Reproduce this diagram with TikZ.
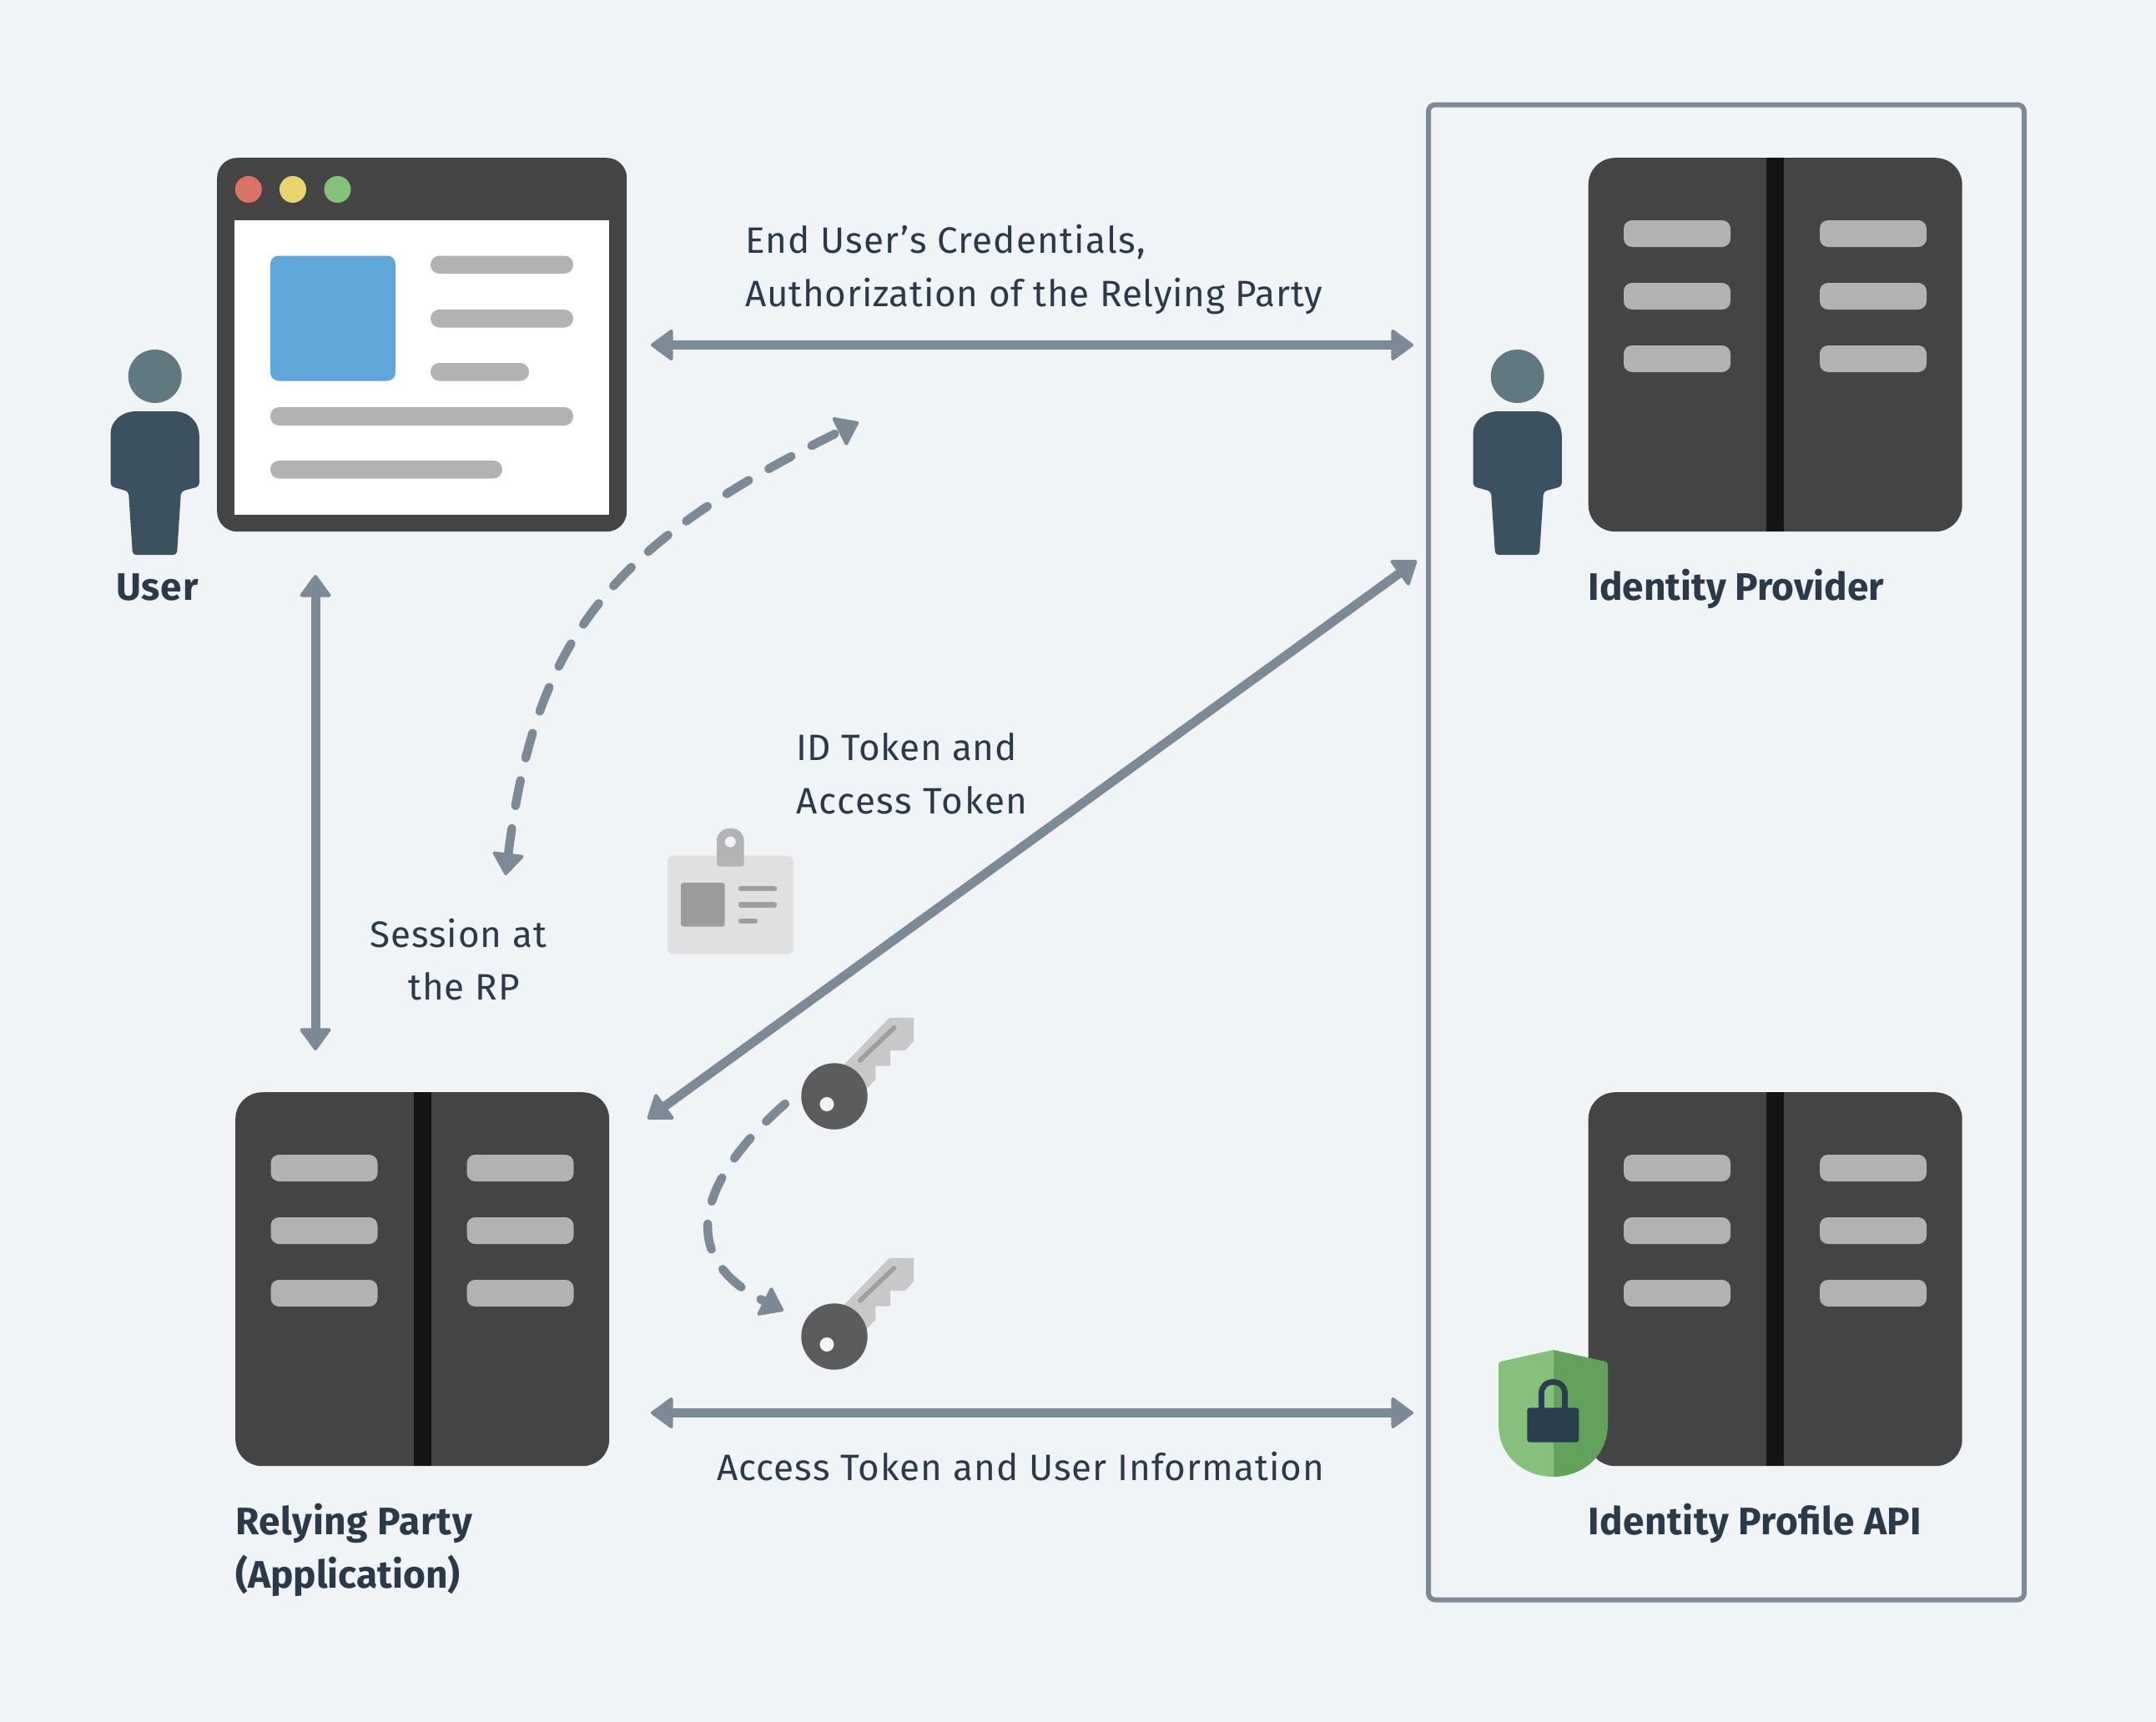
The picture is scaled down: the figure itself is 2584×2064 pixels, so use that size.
\documentclass[tikz,border=0pt]{standalone}
\usepackage{fontspec}
\usetikzlibrary{arrows.meta,calc}
\setmainfont{Fira Sans}
\newfontfamily\lblfont{Fira Sans}
\newcommand{\ls}[2]{{\addfontfeature{LetterSpace=#1}#2}}
\definecolor{bgc}{HTML}{F0F4F7}
\definecolor{linec}{HTML}{7C8A98}
\definecolor{inkc}{HTML}{2B3A4A}
\definecolor{darkc}{HTML}{444444}
\definecolor{spinec}{HTML}{141414}
\definecolor{barc}{HTML}{B2B2B2}
\definecolor{headc}{HTML}{607880}
\definecolor{bodyc}{HTML}{3B5160}
\definecolor{redc}{HTML}{DA7365}
\definecolor{yelc}{HTML}{EAD36E}
\definecolor{grnc}{HTML}{86C17B}
\definecolor{dgrnc}{HTML}{63A25A}
\definecolor{bluec}{HTML}{5FA6D9}
\definecolor{lockc}{HTML}{2B3E4C}
\definecolor{badgec}{HTML}{E0E0E0}
\definecolor{clipc}{HTML}{B3B3B3}
\definecolor{photoc}{HTML}{9B9B9B}
\definecolor{bladec}{HTML}{C8C8C8}
\definecolor{groovec}{HTML}{9E9E9E}
\definecolor{keyc}{HTML}{5C5C5C}
\tikzset{
  tipstyle/.tip={Triangle[length=28pt,width=40pt,round,line width=4pt]},
  conn/.style={draw=linec,line width=11pt,tipstyle-tipstyle},
  dashconn/.style={draw=linec,line width=10.5pt,line cap=round,dash pattern=on 31pt off 27.5pt,-tipstyle},
  lbl/.style={anchor=base west,inner sep=0pt,text=inkc,font=\lblfont\fontsize{44}{64}\selectfont},
  blbl/.style={anchor=base west,inner sep=0pt,text=inkc,font=\bfseries\fontsize{46}{64}\selectfont},
  servernode/.style={anchor=north west,fill=darkc,minimum width=448pt,minimum height=448pt,inner sep=0pt,rounded corners=32pt},
  bar/.style={fill=barc,rounded corners=10pt},
  pill/.style={fill=barc,rounded corners=10.5pt},
}
\newcommand{\serverdetail}[1]{%
  \begin{scope}[shift={(#1)}]
    \fill[spinec] (213.5,0) rectangle (234.5,448);
    \foreach \yy in {75,150,225}{
      \fill[bar] (42.5,\yy) rectangle (170.5,\yy+32);
      \fill[bar] (277.5,\yy) rectangle (405.5,\yy+32);
    }
  \end{scope}}
\newcommand{\personicon}[1]{%
  \begin{scope}[shift={(#1,0)}]
    \fill[headc] (185.7,451) circle [radius=32];
    \fill[bodyc] (132.6,523) .. controls (132.6,505) and (146,493) .. (163,493) -- (208,493) .. controls (226,493) and (238.8,505) .. (238.8,523)
      [rounded corners=4pt] -- (238.8,583) -- (217,589)
      -- (212,665) -- (159,665) -- (154,589)
      -- (132.6,583) -- cycle;
  \end{scope}}
\newcommand{\keyicon}[1]{%
  \begin{scope}[shift={(0,#1)}]
    \fill[bladec] (1011.7,1275.8) -- (1066,1219.8) -- (1095,1219.8) -- (1095,1248) -- (1085,1259) -- (1067,1259) -- (1067,1277.6) -- (1049.3,1277.6) -- (1049.3,1294) -- (1038.7,1305) -- (1000,1314) -- cycle;
    \draw[groovec,line width=5.5pt,line cap=round] (1030.7,1271) -- (1071.7,1231.7);
    \fill[keyc] (1000,1314) circle [radius=39.7];
    \fill[bgc] (991,1323.5) circle [radius=8.5];
  \end{scope}}
\begin{document}
\begin{tikzpicture}[x=1pt,y=-1pt]
\useasboundingbox (0,0) rectangle (2584,2064);
\fill[bgc] (0,0) rectangle (2584,2064);

% provider frame
\node[draw=linec,line width=6pt,rounded corners=8pt,anchor=north west,minimum width=714pt,minimum height=1792pt,inner sep=0pt] (frame) at (1709,122.5) {};

% user + browser
\personicon{0}
\node[anchor=north west,fill=darkc,minimum width=491pt,minimum height=448pt,inner sep=0pt,rounded corners=24pt] (browser) at (260,189) {};
\fill[white] (281,264) rectangle (730,616.5);
\fill[redc] (297.8,227) circle [radius=16];
\fill[yelc] (351,227) circle [radius=16];
\fill[grnc] (404.5,227) circle [radius=16];
\fill[bluec,rounded corners=10pt] (324,306.5) rectangle (474,456.5);
\fill[pill] (516,306.5) rectangle (687,328);
\fill[pill] (516,371) rectangle (687,392.5);
\fill[pill] (516,435) rectangle (634,456.5);
\fill[pill] (324,488) rectangle (687,510);
\fill[pill] (324,552) rectangle (602,573.5);

% servers
\node[servernode] (idp) at (1903.5,189) {};
\serverdetail{1903.5,189}
\personicon{1633}
\node[servernode] (rp) at (282,1309) {};
\serverdetail{282,1309}
\node[servernode] (api) at (1903.5,1309) {};
\serverdetail{1903.5,1309}

% shield
\fill[grnc] (1861.5,1618) [rounded corners=3pt] -- (1796,1632.5) [sharp corners] -- (1796,1707) .. controls (1796,1745) and (1826,1770) .. (1861.5,1770) -- cycle;
\fill[dgrnc] (1861.5,1618) [rounded corners=3pt] -- (1927,1632.5) [sharp corners] -- (1927,1707) .. controls (1927,1745) and (1897,1770) .. (1861.5,1770) -- cycle;
\draw[lockc,line width=6.8pt] (1847.5,1692) -- (1847.5,1670) .. controls (1847.5,1662) and (1853,1656.5) .. (1861.5,1656.5) .. controls (1870,1656.5) and (1875.5,1662) .. (1875.5,1670) -- (1875.5,1692);
\fill[lockc,rounded corners=3pt] (1830.3,1687.3) rectangle (1892.3,1728.7);

% badge
\fill[badgec,rounded corners=7pt] (800,1025.6) rectangle (951,1143.6);
\fill[clipc,rounded corners=3pt] (859,1038.5) -- (859,1010) .. controls (859,1000) and (866,993) .. (875.3,993) .. controls (885,993) and (891.7,1000) .. (891.7,1010) -- (891.7,1038.5) -- cycle;
\fill[bgc] (875.3,1009) circle [radius=6.5];
\fill[photoc,rounded corners=3pt] (816,1058) rectangle (868.7,1110.5);
\draw[groovec,line width=6.5pt,line cap=round] (888,1065) -- (928,1065);
\draw[groovec,line width=6.5pt,line cap=round] (888,1084.4) -- (928,1084.4);
\draw[groovec,line width=6.5pt,line cap=round] (888,1104) -- (905,1104);

% keys
\keyicon{0}
\keyicon{288}

% connector ends
\coordinate (topL) at (780,413.5);
\coordinate (topR) at (1694,413.5);
\coordinate (vertT) at (378,689);
\coordinate (vertB) at (378,1259);
\coordinate (diagT) at (1698,672);
\coordinate (diagB) at (776,1341);
\coordinate (botL) at (780,1693.5);
\coordinate (botR) at (1694,1693.5);
\coordinate (sessA) at (1029,506);
\coordinate (sessB) at (606,1049);
\coordinate (keyA) at (941,1323);
\coordinate (keyB) at (939,1571);

% connectors
\draw[conn] (topL) -- (topR);
\draw[conn] (vertT) -- (vertB);
\draw[conn] (diagT) -- (diagB);
\draw[conn] (botL) -- (botR);
\draw[dashconn,tipstyle-tipstyle] (sessB) .. controls (642,762) and (734,652) .. (sessA);
\draw[dashconn] (keyA) .. controls (845,1407) and (803,1503) .. (keyB);

% labels
\node[lbl] (t1) at (893,303) {\ls{2.8}{End User’s Credentials,}};
\node[lbl] (t2) at (893,367) {\ls{1.8}{Authorization of the Relying Party}};
\node[lbl] (t3) at (954,911) {\ls{1.5}{ID Token and}};
\node[lbl] (t4) at (954,975) {\ls{4}{Access Token}};
\node[lbl] (t5) at (443,1135) {\ls{2.2}{Session at}};
\node[lbl] (t6) at (489,1198) {\ls{2.2}{the RP}};
\node[lbl] (t7) at (859,1774) {\ls{2.4}{Access Token and User Information}};
\node[blbl] (b1) at (139,719) {\ls{2}{User}};
\node[blbl] (b2) at (1903.5,719) {Identity Provider};
\node[blbl] (b3) at (282,1839) {\ls{1.5}{Relying Party}};
\node[blbl] (b4) at (282,1903) {(Application)};
\node[blbl] (b5) at (1903.5,1839) {\ls{1}{Identity Profile API}};
\end{tikzpicture}
\end{document}
